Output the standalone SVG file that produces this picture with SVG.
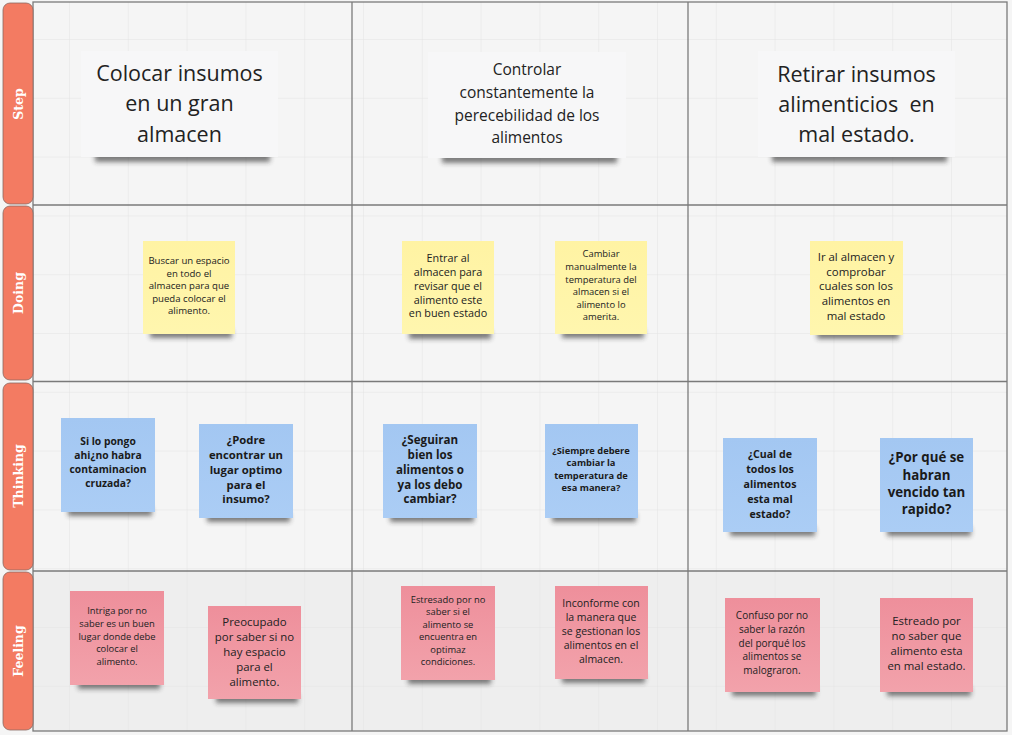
<svg xmlns="http://www.w3.org/2000/svg" width="1012" height="735" viewBox="0 0 1012 735">
<defs>
<style>
.lbl{font-family:"DejaVu Serif","Liberation Serif",serif;font-weight:bold;font-size:12.5px;fill:#ffffff;text-anchor:middle}
.rl{fill:#F37B62;stroke:#8a6a62;stroke-width:0.8}
.frame{fill:none;stroke:#7a7a7a;stroke-width:1.3}
.step{fill:#F7F7F8}
.y{fill:url(#gy)}
.b{fill:url(#gb)}
.p{fill:url(#gp)}
.sh{fill:#2a2a2a;opacity:0.6;filter:url(#blur)}
.t{font-family:"Open Sans","Noto Sans","Liberation Sans",sans-serif;fill:#222;text-anchor:middle}
.tb{font-family:"Open Sans","Noto Sans","Liberation Sans",sans-serif;font-weight:bold;fill:#1a1a1a;text-anchor:middle}
.pre{white-space:pre}
</style>
<pattern id="grid" x="10.2" y="-19.8" width="58.8" height="58.8" patternUnits="userSpaceOnUse">
<path d="M0 0 H58.8 M0 0 V58.8" fill="none" stroke="#E4E4E4" stroke-width="1"/>
</pattern>
<linearGradient id="gy" x1="0" y1="0" x2="0" y2="1"><stop offset="0" stop-color="#FFF3A3"/><stop offset="1" stop-color="#FFF6AE"/></linearGradient>
<linearGradient id="gb" x1="0" y1="0" x2="0" y2="1"><stop offset="0" stop-color="#A3C7F2"/><stop offset="1" stop-color="#ABCDF5"/></linearGradient>
<linearGradient id="gp" x1="0" y1="0" x2="0" y2="1"><stop offset="0" stop-color="#EE8F9B"/><stop offset="1" stop-color="#F2A2AB"/></linearGradient>
<filter id="blur" x="-20%" y="-100%" width="140%" height="300%"><feGaussianBlur stdDeviation="2.5"/></filter>
</defs>

<g id="background">
<rect x="0" y="0" width="1012" height="735" fill="#F5F5F5"/>
<rect x="33" y="571" width="974" height="160" fill="#EEEEEE"/>
<rect x="33" y="2" width="974" height="729" fill="url(#grid)"/>
</g>

<g id="frame">
<rect class="frame" x="33" y="2" width="974" height="729"/>
<line class="frame" x1="33" y1="205" x2="1007" y2="205"/>
<line class="frame" x1="33" y1="381.5" x2="1007" y2="381.5"/>
<line class="frame" x1="33" y1="571" x2="1007" y2="571"/>
<line class="frame" x1="352" y1="2" x2="352" y2="731"/>
<line class="frame" x1="688" y1="2" x2="688" y2="731"/>
</g>

<g id="row-step"><rect class="rl" x="3" y="3" width="30" height="201" rx="7"/><text class="lbl" transform="translate(22.5,104) rotate(-90)">Step</text></g>
<g id="row-doing"><rect class="rl" x="3" y="206" width="30" height="174" rx="7"/><text class="lbl" transform="translate(22.5,293) rotate(-90)">Doing</text></g>
<g id="row-thinking"><rect class="rl" x="3" y="383" width="30" height="187" rx="7"/><text class="lbl" transform="translate(22.5,476) rotate(-90)">Thinking</text></g>
<g id="row-feeling"><rect class="rl" x="3" y="572" width="30" height="158" rx="7"/><text class="lbl" transform="translate(22.5,651) rotate(-90)">Feeling</text></g>

<g id="connectors"></g>

<g id="step1">
<rect class="sh" x="95" y="152" width="175" height="10"/>
<rect class="step" x="81" y="51" width="197" height="106"/>
<text class="t" font-size="21.5"><tspan x="179.5" y="81">Colocar insumos</tspan><tspan x="179.5" y="111">en un gran</tspan><tspan x="179.5" y="142">almacen</tspan></text>
</g>
<g id="step2">
<rect class="sh" x="442" y="153" width="175" height="10"/>
<rect class="step" x="428" y="52" width="198" height="106"/>
<text class="t" font-size="15.5"><tspan x="527" y="75">Controlar</tspan><tspan x="527" y="97.5">constantemente la</tspan><tspan x="527" y="120.5">perecebilidad de los</tspan><tspan x="527" y="143">alimentos</tspan></text>
</g>
<g id="step3">
<rect class="sh" x="772" y="152" width="175" height="10"/>
<rect class="step" x="758" y="51" width="197" height="106"/>
<text class="t pre" font-size="21.5" xml:space="preserve"><tspan x="856.5" y="82">Retirar insumos</tspan><tspan x="856.5" y="112">alimenticios  en</tspan><tspan x="856.5" y="142">mal estado.</tspan></text>
</g>

<g id="doing1">
<rect class="sh" x="150" y="329" width="82" height="9"/>
<rect class="y" x="143" y="241" width="92" height="93"/>
<text class="t" font-size="9.6"><tspan x="189" y="264.3">Buscar un espacio</tspan><tspan x="189" y="276.7">en todo el</tspan><tspan x="189" y="289.2">almacen para que</tspan><tspan x="189" y="301.6">pueda colocar el</tspan><tspan x="189" y="314">alimento.</tspan></text>
</g>
<g id="doing2">
<rect class="sh" x="409" y="330" width="82" height="9"/>
<rect class="y" x="402" y="241" width="92" height="93"/>
<text class="t" font-size="10.8"><tspan x="448" y="262">Entrar al</tspan><tspan x="448" y="276">almacen para</tspan><tspan x="448" y="289.8">revisar que el</tspan><tspan x="448" y="303.6">alimento este</tspan><tspan x="448" y="317.4">en buen estado</tspan></text>
</g>
<g id="doing3">
<rect class="sh" x="562" y="329" width="82" height="9"/>
<rect class="y" x="555" y="241" width="92" height="93"/>
<text class="t" font-size="9.4"><tspan x="601" y="257.3">Cambiar</tspan><tspan x="601" y="269.9">manualmente la</tspan><tspan x="601" y="282.5">temperatura del</tspan><tspan x="601" y="295">almacen si el</tspan><tspan x="601" y="307.5">alimento lo</tspan><tspan x="601" y="320">amerita.</tspan></text>
</g>
<g id="doing4">
<rect class="sh" x="817" y="330" width="82" height="9"/>
<rect class="y" x="810" y="241" width="93" height="94"/>
<text class="t" font-size="11.4"><tspan x="856" y="260.7">Ir al almacen y</tspan><tspan x="856" y="275.5">comprobar</tspan><tspan x="856" y="290.4">cuales son los</tspan><tspan x="856" y="305.2">alimentos en</tspan><tspan x="856" y="320">mal estado</tspan></text>
</g>

<g id="think1">
<rect class="sh" x="68" y="507" width="84" height="9"/>
<rect class="b" x="61" y="418" width="94" height="94"/>
<text class="tb" font-size="10.3"><tspan x="108" y="445">Si lo pongo</tspan><tspan x="108" y="459.2">ahi¿no habra</tspan><tspan x="108" y="473.3">contaminacion</tspan><tspan x="108" y="487.4">cruzada?</tspan></text>
</g>
<g id="think2">
<rect class="sh" x="207" y="513" width="83" height="9"/>
<rect class="b" x="199" y="424" width="94" height="94"/>
<text class="tb" font-size="11.3"><tspan x="246" y="444">¿Podre</tspan><tspan x="246" y="458.8">encontrar un</tspan><tspan x="246" y="473.6">lugar optimo</tspan><tspan x="246" y="488.5">para el</tspan><tspan x="246" y="503.3">insumo?</tspan></text>
</g>
<g id="think3">
<rect class="sh" x="390" y="513" width="84" height="9"/>
<rect class="b" x="383" y="424" width="94" height="94"/>
<text class="tb" font-size="11.6"><tspan x="430" y="444.3">¿Seguiran</tspan><tspan x="430" y="459">bien los</tspan><tspan x="430" y="473.8">alimentos o</tspan><tspan x="430" y="488.6">ya los debo</tspan><tspan x="430" y="503.3">cambiar?</tspan></text>
</g>
<g id="think4">
<rect class="sh" x="552" y="513" width="84" height="9"/>
<rect class="b" x="545" y="424" width="93" height="94"/>
<text class="tb" font-size="9.3"><tspan x="591" y="454">¿Siempre debere</tspan><tspan x="591" y="466.3">cambiar la</tspan><tspan x="591" y="478.7">temperatura de</tspan><tspan x="591" y="491">esa manera?</tspan></text>
</g>
<g id="think5">
<rect class="sh" x="730" y="527" width="85" height="9"/>
<rect class="b" x="723" y="438" width="94" height="94"/>
<text class="tb" font-size="10.6"><tspan x="770" y="457.7">¿Cual de</tspan><tspan x="770" y="472.7">todos los</tspan><tspan x="770" y="487.7">alimentos</tspan><tspan x="770" y="502.7">esta mal</tspan><tspan x="770" y="517.7">estado?</tspan></text>
</g>
<g id="think6">
<rect class="sh" x="887" y="527" width="84" height="9"/>
<rect class="b" x="880" y="438" width="93" height="94"/>
<text class="tb" font-size="13.3"><tspan x="926.5" y="462.3">¿Por qué se</tspan><tspan x="926.5" y="479.6">habran</tspan><tspan x="926.5" y="496.9">vencido tan</tspan><tspan x="926.5" y="514.2">rapido?</tspan></text>
</g>

<g id="feel1">
<rect class="sh" x="78" y="680" width="82" height="9"/>
<rect class="p" x="70" y="591" width="94" height="94"/>
<text class="t" font-size="9.4"><tspan x="117" y="614.3">Intriga por no</tspan><tspan x="117" y="627">saber es un buen</tspan><tspan x="117" y="639.7">lugar donde debe</tspan><tspan x="117" y="652.3">colocar el</tspan><tspan x="117" y="665">alimento.</tspan></text>
</g>
<g id="feel2">
<rect class="sh" x="216" y="694" width="82" height="9"/>
<rect class="p" x="208" y="606" width="93" height="93"/>
<text class="t" font-size="11.4"><tspan x="254.5" y="625.7">Preocupado</tspan><tspan x="254.5" y="640.7">por saber si no</tspan><tspan x="254.5" y="655.7">hay espacio</tspan><tspan x="254.5" y="670.7">para el</tspan><tspan x="254.5" y="685.7">alimento.</tspan></text>
</g>
<g id="feel3">
<rect class="sh" x="408" y="675" width="83" height="9"/>
<rect class="p" x="401" y="586" width="94" height="94"/>
<text class="t" font-size="9.4"><tspan x="448" y="602.7">Estresado por no</tspan><tspan x="448" y="615.2">saber si el</tspan><tspan x="448" y="627.6">alimento se</tspan><tspan x="448" y="640">encuentra en</tspan><tspan x="448" y="652.5">optimaz</tspan><tspan x="448" y="665">condiciones.</tspan></text>
</g>
<g id="feel4">
<rect class="sh" x="562" y="674" width="83" height="9"/>
<rect class="p" x="555" y="586" width="93" height="93"/>
<text class="t" font-size="10.5"><tspan x="601" y="606.7">Inconforme con</tspan><tspan x="601" y="620.7">la manera que</tspan><tspan x="601" y="634.7">se gestionan los</tspan><tspan x="601" y="648.7">alimentos en el</tspan><tspan x="601" y="662.7">almacen.</tspan></text>
</g>
<g id="feel5">
<rect class="sh" x="732" y="687" width="84" height="9"/>
<rect class="p" x="725" y="598" width="95" height="94"/>
<text class="t" font-size="10"><tspan x="772" y="619">Confuso por no</tspan><tspan x="772" y="632.8">saber la razón</tspan><tspan x="772" y="646.5">del porqué los</tspan><tspan x="772" y="660.3">alimentos se</tspan><tspan x="772" y="674">malograron.</tspan></text>
</g>
<g id="feel6">
<rect class="sh" x="887" y="687" width="84" height="9"/>
<rect class="p" x="880" y="598" width="93" height="94"/>
<text class="t" font-size="11.4"><tspan x="926.5" y="625">Estreado por</tspan><tspan x="926.5" y="640">no saber que</tspan><tspan x="926.5" y="655">alimento esta</tspan><tspan x="926.5" y="670">en mal estado.</tspan></text>
</g>
</svg>
